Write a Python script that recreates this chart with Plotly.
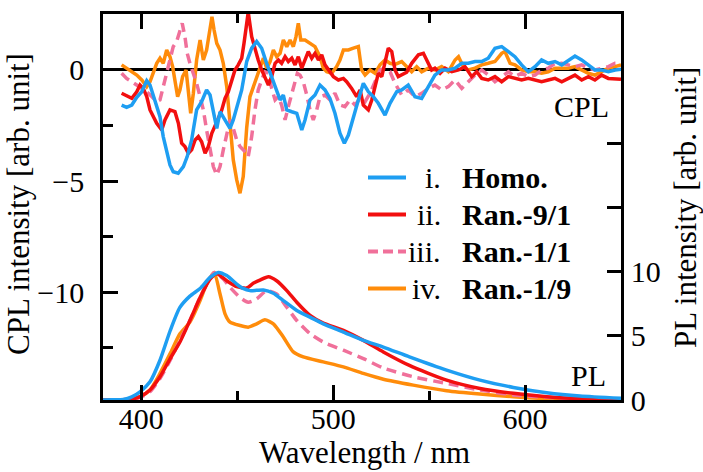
import plotly.graph_objects as go

# ---------------- data ----------------
# CPL (left axis)
cpl_homo_x = [389.7,392.3,395.0,397.6,400.2,402.8,404.5,406.2,408.0,409.7,411.4,413.2,414.9,416.6,419.2,421.9,423.9,426.2,428.8,431.4,434.0,435.8,437.5,439.3,441.0,443.6,446.2,447.9,449.7,452.3,454.9,457.5,460.1,462.7,465.3,467.9,470.5,472.3,474.0,475.8,478.4,481.0,483.6,485.3,487.9,490.5,493.1,495.7,498.3,500.9,503.5,505.8,507.9,510.5,513.1,515.7,518.3,520.9,523.5,527.0,529.6,533.1,535.7,539.1,542.6,546.1,549.6,553.0,556.5,560.0,563.5,567.0,570.4,573.9,577.4,580.8,584.3,587.8,591.3,594.7,598.2,601.7,605.2,608.6,612.1,615.6,619.1,622.5,626.0,629.5,633.0,636.4,639.9,643.4,646.9,650.0]
cpl_homo_y = [-1.58,-1.68,-1.58,-1.23,-0.98,-0.48,-0.68,-1.13,-1.65,-2.10,-3.00,-3.75,-4.28,-4.58,-4.65,-4.35,-3.90,-3.15,-1.80,-1.43,-0.90,-1.13,-1.80,-2.63,-1.88,-2.25,-2.63,-2.25,-1.65,-0.90,0.38,0.98,1.28,0.98,0.30,-0.30,-0.90,-1.35,-1.13,-1.80,-1.88,-1.95,-2.70,-2.25,-1.35,-1.13,-0.68,-0.90,-1.28,-1.95,-2.85,-3.30,-2.93,-2.10,-1.35,-0.60,-0.98,-1.20,-1.50,-2.03,-1.50,-0.98,-0.90,-0.68,-1.20,-1.28,-0.75,-0.23,0.00,0.00,0.08,0.30,0.30,0.38,0.38,0.53,0.98,1.05,0.83,0.60,0.23,-0.08,0.15,0.45,0.30,0.38,0.23,0.45,0.63,0.45,0.23,0.00,0.00,-0.08,0.00,0.03]

cpl_r91_x = [389.7,392.3,395.0,397.6,399.3,401.0,402.8,404.5,406.2,408.0,410.6,412.3,414.9,417.5,419.3,421.0,422.7,424.5,426.2,428.0,429.7,431.4,433.2,434.9,436.7,438.4,440.1,441.9,443.6,445.3,447.1,448.8,450.5,452.3,453.5,454.9,455.7,457.5,459.2,460.9,462.7,464.4,466.2,467.9,469.7,471.4,473.1,474.9,476.6,478.4,480.1,481.8,483.6,485.3,487.0,488.8,490.5,492.3,494.0,495.7,497.5,500.1,502.7,505.3,507.0,509.6,512.2,514.0,515.7,518.3,520.1,521.8,523.5,525.3,527.0,528.7,530.5,532.2,533.9,535.7,538.3,540.9,544.4,547.0,549.6,551.3,553.0,555.7,558.3,561.8,565.3,568.7,572.2,574.8,577.4,580.8,584.3,587.8,591.3,594.7,598.2,601.7,605.2,608.6,612.1,615.6,619.1,622.5,626.0,629.5,633.0,636.4,639.9,643.4,646.9,650.0]
cpl_r91_y = [-1.05,-1.17,-1.28,-0.98,-0.68,-0.83,-1.20,-1.80,-2.10,-2.40,-2.70,-2.25,-1.80,-1.88,-2.40,-3.30,-3.45,-3.75,-3.60,-3.15,-3.00,-3.23,-3.75,-3.45,-2.85,-2.55,-2.18,-1.80,-1.28,-0.98,-0.45,0.00,0.23,0.53,1.20,2.25,2.60,1.50,0.90,0.45,0.00,-0.30,-0.68,-0.30,0.30,0.45,0.30,0.60,0.38,0.53,0.23,0.60,0.08,0.45,0.83,0.53,0.75,0.45,0.68,0.23,0.00,-0.30,-0.45,-0.38,-0.53,-0.83,-1.20,-0.90,-1.58,-1.80,-1.35,-0.75,-0.15,-0.30,0.30,0.98,0.83,0.00,-0.30,-0.20,-0.10,0.30,0.68,0.75,0.30,0.00,0.08,-0.15,0.08,-0.08,0.00,0.15,-0.30,-0.08,-0.38,-0.45,-0.30,-0.53,-0.30,-0.38,-0.45,-0.38,-0.45,-0.53,-0.45,-0.38,-0.53,-0.38,-0.23,-0.45,-0.30,-0.45,-0.23,-0.38,-0.42,-0.42]

cpl_r11_x = [389.7,392.3,395.0,397.6,400.2,402.8,405.4,408.0,409.7,411.4,413.2,414.9,416.6,418.4,420.1,421.3,422.7,423.9,425.3,427.1,428.8,430.6,432.3,434.0,435.8,437.5,439.3,441.0,442.7,444.5,446.2,447.9,449.7,451.4,453.1,454.9,455.7,457.5,459.2,460.9,462.7,464.4,466.2,467.9,469.7,471.4,473.1,474.9,476.6,479.2,481.3,482.7,484.4,486.2,487.9,489.6,491.4,493.1,495.7,498.3,500.9,503.5,506.1,508.7,511.4,514.0,516.6,519.2,521.8,524.4,527.0,529.6,532.2,535.7,539.1,542.6,546.1,549.6,553.0,556.5,560.0,563.5,567.0,570.4,573.9,577.4,580.8,584.3,587.8,591.3,594.7,598.2,601.7,605.2,608.6,612.1,615.6,619.1,622.5,626.0,629.5,633.0,636.4,639.9,643.4,646.9,650.0]
cpl_r11_y = [-0.15,-0.38,-0.53,-0.68,-0.83,-0.98,-1.20,-1.43,-1.35,-0.75,-0.15,0.45,1.05,1.28,1.80,2.10,1.50,0.75,0.30,-0.15,-0.60,-1.20,-1.80,-2.70,-3.60,-4.35,-4.73,-4.35,-3.60,-2.85,-2.25,-2.63,-3.15,-3.45,-3.60,-3.75,-3.90,-3.00,-1.80,-0.90,-0.45,-0.08,-0.15,-0.83,-1.35,-1.20,-1.58,-2.25,-1.65,-0.75,-0.15,-0.23,-0.53,-1.13,-1.80,-2.25,-1.80,-1.20,-1.13,-1.35,-1.05,-1.58,-1.65,-1.35,-1.58,-1.28,-1.43,-1.05,-0.53,0.00,0.08,-0.08,-0.60,-1.13,-0.90,-1.20,-1.05,-0.83,-0.68,-0.90,-0.75,-0.45,-0.83,-0.53,-0.23,0.00,-0.23,-0.53,-0.30,-0.08,-0.30,-0.15,-0.30,-0.23,0.00,0.08,0.30,0.30,0.23,0.15,0.23,0.08,0.00,0.08,0.15,0.30,0.30]

cpl_r19_x = [389.7,392.3,395.0,397.6,400.2,402.8,404.5,406.2,408.0,409.7,411.4,413.2,414.9,416.3,417.5,418.9,420.1,421.5,423.3,424.5,425.7,427.1,428.8,430.6,432.3,434.0,435.8,436.8,437.9,439.3,441.0,442.7,444.5,446.2,447.9,449.7,451.4,453.1,454.9,456.6,458.3,460.1,461.8,463.6,465.3,467.1,468.8,470.5,472.3,474.0,475.8,477.5,479.2,480.6,481.8,483.1,485.3,487.9,490.5,493.1,494.8,496.6,499.2,501.8,503.5,505.3,507.9,510.5,513.1,514.8,516.6,519.2,521.8,524.4,527.0,529.6,532.2,535.7,538.3,540.9,543.5,546.1,549.6,553.0,556.5,560.0,563.5,565.3,567.8,570.4,573.9,577.4,580.8,584.3,587.8,589.5,592.2,594.7,598.2,601.7,605.2,608.6,612.1,615.6,619.1,622.5,626.0,629.5,633.0,636.4,639.9,643.4,646.9,650.0]
cpl_r19_y = [0.23,0.08,-0.08,-0.23,-0.45,-0.75,-0.53,-0.15,0.30,0.53,0.30,0.90,0.60,0.15,-0.60,-1.20,-0.90,-0.30,0.00,-0.90,-1.95,-1.05,0.45,1.35,0.45,0.90,1.95,2.40,1.80,1.20,0.90,0.30,-0.75,-2.40,-4.05,-4.95,-5.55,-4.80,-2.60,-1.20,-0.75,-0.30,0.15,0.53,0.08,0.38,0.90,0.60,0.75,1.35,1.05,1.35,1.05,1.50,2.10,1.35,1.35,1.20,1.05,0.60,0.08,-0.08,-0.15,0.15,0.45,0.90,0.90,0.98,1.05,0.00,-0.23,0.00,-0.15,0.23,0.45,0.30,0.25,0.38,0.15,-0.08,0.15,-0.08,0.08,0.00,0.15,-0.08,0.45,0.60,0.15,0.00,0.08,0.23,0.30,0.38,0.75,0.83,0.30,0.23,0.00,-0.08,-0.08,-0.15,-0.08,0.08,0.08,0.08,0.15,0.00,-0.15,-0.23,-0.08,0.08,0.15,0.23]

# PL (right axis)
pl_homo_x = [380,385,390.6,395,399.3,404.5,409.7,415,420,425.3,430.6,435.8,440.1,444.5,449.7,453,456.6,460,463.6,468.8,474,481,487.9,494.8,505.3,515.7,526.1,539.7,559.1,576.5,593.9,611.3,628.6,650]
pl_homo_y = [0.0,0.02,0.05,0.25,0.64,1.42,3.1,5.4,7.2,8.1,8.7,9.56,9.95,9.7,9.04,8.7,8.53,8.55,8.58,8.32,7.75,6.98,6.46,5.94,5.3,4.65,4.13,3.36,2.33,1.55,0.98,0.57,0.31,0.13]

pl_r91_x = [380,390,394,399.3,404.5,409.7,415,420.1,425.3,430.6,435.8,439.3,444.5,449.7,454.9,458.3,461.8,466.2,470.5,475.8,481,487.9,494.8,505.3,515.7,526.1,539.7,559.1,576.5,593.9,611.3,628.6,650]
pl_r91_y = [0.0,0.02,0.05,0.26,0.78,1.81,3.23,4.52,6.2,8.0,9.43,9.85,9.3,8.84,8.73,9.1,9.35,9.61,9.3,8.53,7.62,6.59,5.99,5.43,4.65,3.75,2.7,1.55,0.9,0.52,0.26,0.1,0.05]

pl_r11_x = [380,390,395,399.3,404.5,409.7,415,420.1,425.3,430.6,435.8,438,442.7,446.2,451.4,455.7,460.1,465.3,470.5,475.8,481,487.9,494.8,505.3,515.7,526.1,541.7,559.1,576.5,593.9,611.3,628.6,650]
pl_r11_y = [0.0,0.02,0.08,0.2,0.64,1.68,3.1,4.65,6.2,8.0,9.5,9.95,9.43,8.79,8.0,7.62,7.88,8.53,8.27,7.23,6.2,5.17,4.52,3.88,3.23,2.5,1.81,1.29,0.78,0.39,0.21,0.08,0.05]

pl_r19_x = [380,390,395,399.3,404.5,409.7,415,420.1,425.3,430.6,434,437.9,441,443.6,446.2,451.4,455.7,460.1,464.4,468.8,474,479.2,484.4,494.8,505.3,515.7,526.1,541.7,559.1,576.5,593.9,611.3,650]
pl_r19_y = [0.0,0.02,0.08,0.26,0.78,2.07,3.62,5.17,6.07,7.75,9.04,9.95,8.27,6.72,6.07,5.81,5.68,5.94,6.25,5.94,4.91,3.75,3.36,2.97,2.58,2.07,1.62,1.16,0.72,0.46,0.26,0.1,0.0]

numerals = ["i.", "ii.", "iii.", "iv."]
names = ["Homo.", "Ran.-9/1", "Ran.-1/1", "Ran.-1/9"]

# ---------------- style ----------------
C_BLUE = "#1E9EF2"
C_RED = "#F20F0F"
C_PINK = "#F0709A"
C_ORANGE = "#FF8C0A"
FONT = "Liberation Serif"
LW = 3.5
DASH = "10px,6px"

W, H = 703, 472
ML, MR, MT, MB = 103, 82, 14, 72
PW, PH = W - ML - MR, H - MT - MB


def px(xp):
    return (xp - ML) / PW


def py(yp):
    return (H - MB - yp) / PH


fig = go.Figure()

series = [
    (cpl_r19_x, cpl_r19_y, pl_r19_x, pl_r19_y, C_ORANGE, "solid"),
    (cpl_r11_x, cpl_r11_y, pl_r11_x, pl_r11_y, C_PINK, DASH),
    (cpl_r91_x, cpl_r91_y, pl_r91_x, pl_r91_y, C_RED, "solid"),
    (cpl_homo_x, cpl_homo_y, pl_homo_x, pl_homo_y, C_BLUE, "solid"),
]
for cx, cy, lx, ly, col, dash in series:
    fig.add_trace(go.Scatter(x=lx, y=ly, mode="lines", yaxis="y2",
                             line=dict(color=col, width=LW, dash=dash, shape="spline", smoothing=0.6),
                             showlegend=False, hoverinfo="skip"))
for cx, cy, lx, ly, col, dash in series:
    fig.add_trace(go.Scatter(x=cx, y=cy, mode="lines", yaxis="y",
                             line=dict(color=col, width=LW, dash=dash),
                             showlegend=False, hoverinfo="skip"))

tickfont = dict(family=FONT, size=30, color="black")
AXW = 2.5

fig.update_layout(
    width=W, height=H,
    margin=dict(l=ML, r=MR, t=MT, b=MB),
    paper_bgcolor="white", plot_bgcolor="white",
    showlegend=False,
    xaxis=dict(range=[380, 650], tickvals=[400, 500, 600], ticks="inside", ticklen=15, tickwidth=AXW,
               tickcolor="black", showline=True, linecolor="black", linewidth=AXW, mirror="ticks",
               showgrid=False, zeroline=False, tickfont=tickfont, ticklabelstandoff=-10,
               minor=dict(tickvals=[450, 550], ticks="inside", ticklen=9, tickwidth=AXW, tickcolor="black",
                          showgrid=False)),
    yaxis=dict(range=[-14.86, 2.52], tickvals=[0, -5, -10], ticktext=["0", "\u22125", "\u221210"],
               ticks="inside", ticklen=15, tickwidth=AXW, tickcolor="black",
               showline=True, linecolor="black", linewidth=AXW, mirror=False,
               showgrid=False, zeroline=True, zerolinecolor="black", zerolinewidth=2.5,
               tickfont=tickfont, ticklabelstandoff=10,
               minor=dict(tickvals=[-2.5, -7.5, -12.5], ticks="inside", ticklen=10, tickwidth=AXW,
                          tickcolor="black", showgrid=False)),
    yaxis2=dict(range=[0, 30.1], overlaying="y", side="right", tickvals=[0, 5, 10, 15, 20],
                ticktext=["0", "5", "10", "", ""], ticks="inside", ticklen=14, tickwidth=AXW,
                tickcolor="black", showline=True, linecolor="black", linewidth=AXW,
                showgrid=False, zeroline=False, tickfont=tickfont, ticklabelstandoff=1),
)

ann = []
tfont = dict(family=FONT, size=31, color="black")
ann.append(dict(text="Wavelength / nm", x=px(364), y=py(452), xref="paper", yref="paper",
                xanchor="center", yanchor="middle", showarrow=False, font=tfont))
ann.append(dict(text="CPL intensity [arb. unit]", x=px(18), y=py(204), xref="paper", yref="paper",
                xanchor="center", yanchor="middle", textangle=-90, showarrow=False, font=tfont))
ann.append(dict(text="PL intensity [arb. unit]", x=px(685), y=py(208), xref="paper", yref="paper",
                xanchor="center", yanchor="middle", textangle=-90, showarrow=False, font=tfont))
ann.append(dict(text="CPL", x=px(611), y=py(107), xref="paper", yref="paper",
                xanchor="right", yanchor="middle", showarrow=False, font=dict(family=FONT, size=30, color="black")))
ann.append(dict(text="PL", x=px(608), y=py(375), xref="paper", yref="paper",
                xanchor="right", yanchor="middle", showarrow=False, font=dict(family=FONT, size=30, color="black")))

shapes = []
leg_y = [177.5, 214.5, 251.5, 288.5]
leg_cols = [C_BLUE, C_RED, C_PINK, C_ORANGE]
leg_dash = ["solid", "solid", "10px,5px", "solid"]
for i in range(4):
    shapes.append(dict(type="line", xref="paper", yref="paper", x0=px(368), x1=px(406),
                       y0=py(leg_y[i]), y1=py(leg_y[i]),
                       line=dict(color=leg_cols[i], width=4, dash=leg_dash[i])))
    ann.append(dict(text=numerals[i], x=px(443), y=py(leg_y[i]), xref="paper", yref="paper",
                    xanchor="right", yanchor="middle", showarrow=False,
                    font=dict(family=FONT, size=30, color="black")))
    ann.append(dict(text="<b>" + names[i] + "</b>", x=px(460), y=py(leg_y[i]), xref="paper", yref="paper",
                    xanchor="left", yanchor="middle", showarrow=False,
                    font=dict(family=FONT, size=30, color="black")))

fig.update_layout(annotations=ann, shapes=shapes)
fig.write_html("out.html")
